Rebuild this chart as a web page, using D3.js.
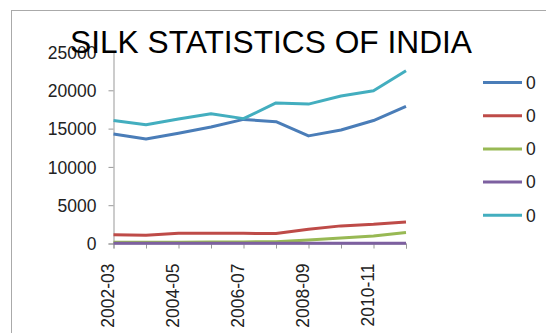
<!doctype html>
<html>
<head>
<meta charset="utf-8">
<script src="https://d3js.org/d3.v7.min.js"></script>
<style>
  body { margin: 0; background: #fff; }
  svg { display: block; font-family: "Liberation Sans", Arial, sans-serif; }
</style>
</head>
<body>
<svg class="chart"></svg>
<script>
// silk production series
var years = ["2002-03", "2003-04", "2004-05", "2005-06", "2006-07",
             "2007-08", "2008-09", "2009-10", "2010-11", "2011-12"];
var mulberry = [14300, 13650, 14400, 15200, 16200, 15900, 14050, 14820, 16050, 17900];
var tasar    = [1150, 1080, 1330, 1330, 1330, 1300, 1850, 2300, 2500, 2800];
var eri      = [150, 150, 160, 180, 200, 240, 450, 720, 980, 1450];
var muga     = [30, 30, 30, 30, 30, 30, 30, 30, 30, 30];
var total    = [16050, 15500, 16250, 16950, 16300, 18350, 18200, 19250, 19950, 22550];
var seriesNames = ["0", "0", "0", "0", "0"];
var yTicks = [0, 5000, 10000, 15000, 20000, 25000];
var labelYears = ["2002-03", "2004-05", "2006-07", "2008-09", "2010-11"];

var series = [mulberry, tasar, eri, muga, total];
var colors = ["#4a7db8", "#be4b48", "#98b954", "#7d60a0", "#43aebf"];

var W = 546, H = 333;
var svg = d3.select(".chart").attr("width", W).attr("height", H);

// outer chart border
svg.append("rect")
    .attr("x", 11.5).attr("y", 10.5)
    .attr("width", 600).attr("height", 400)
    .attr("fill", "none").attr("stroke", "#aaa").attr("stroke-width", 1);

var x = d3.scalePoint().domain(years).range([113.5, 406]);
var y = d3.scaleLinear().domain([0, 25000]).range([243.5, 52]);

// y axis
var yAxis = d3.axisLeft(y).tickValues(yTicks).tickSize(5).tickPadding(12)
    .tickFormat(d3.format("d"));
svg.append("g").attr("transform", "translate(113.5,0)").call(yAxis)
    .call(function(g) {
        g.select(".domain").attr("stroke", "#999");
        g.selectAll(".tick line").attr("stroke", "#999");
        g.selectAll("text").attr("font-size", 17.5).attr("fill", "#222")
            .attr("font-family", "Liberation Sans, Arial, sans-serif")
            .attr("dy", "0.36em");
    });

// x axis
var xAxis = d3.axisBottom(x).tickSize(5).tickFormat(function(d) {
    return labelYears.indexOf(d) >= 0 ? d : "";
});
svg.append("g").attr("transform", "translate(0,243.5)").call(xAxis)
    .call(function(g) {
        g.select(".domain").attr("stroke", "#999");
        g.selectAll(".tick line").attr("stroke", "#999");
        g.selectAll("text")
            .attr("font-size", 17.5).attr("fill", "#222")
            .attr("font-family", "Liberation Sans, Arial, sans-serif")
            .attr("text-anchor", "end")
            .attr("transform", "rotate(-90)")
            .attr("x", -20).attr("y", 0).attr("dy", "0.02em")
            .attr("dx", 0);
    });

// lines
var line = d3.line()
    .x(function(d, i) { return x(years[i]); })
    .y(function(d) { return y(d); });

series.forEach(function(s, k) {
    svg.append("path")
        .attr("d", line(s))
        .attr("fill", "none")
        .attr("stroke", colors[k])
        .attr("stroke-width", 3)
        .attr("stroke-linejoin", "round");
});

// legend
var legend = svg.append("g");
seriesNames.forEach(function(name, k) {
    var ly = 82.5 + k * 33.2;
    legend.append("line")
        .attr("x1", 483).attr("x2", 522).attr("y1", ly).attr("y2", ly)
        .attr("stroke", colors[k]).attr("stroke-width", 3);
    legend.append("text")
        .attr("x", 526).attr("y", ly).attr("dy", "0.36em")
        .attr("font-size", 17.5).attr("fill", "#222")
        .text(name);
});

// title
svg.append("text")
    .attr("x", 271).attr("y", 53)
    .attr("text-anchor", "middle")
    .attr("font-size", 30.5).attr("fill", "#000")
    .attr("textLength", 402).attr("lengthAdjust", "spacingAndGlyphs")
    .text("SILK STATISTICS OF INDIA");
</script>
</body>
</html>
